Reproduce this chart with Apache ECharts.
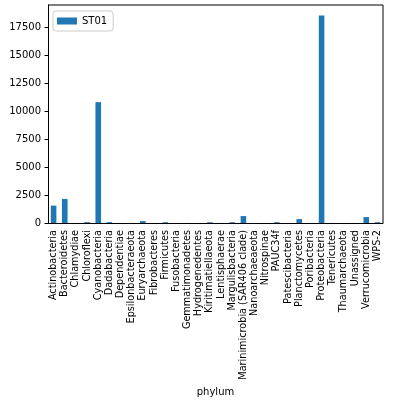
<!DOCTYPE html>
<html><head><meta charset="utf-8">
<script src="https://cdn.jsdelivr.net/npm/echarts@6/dist/echarts.min.js"></script>
<style>html,body{margin:0;padding:0;background:#fff}#c{width:393px;height:402px}</style>
</head><body><div id="c"></div>
<script>
var categories = ["Actinobacteria","Bacteroidetes","Chlamydiae","Chloroflexi","Cyanobacteria","Dadabacteria","Dependentiae","Epsilonbacteraeota","Euryarchaeota","Fibrobacteres","Firmicutes","Fusobacteria","Gemmatimonadetes","Hydrogenedentes","Kiritimatiellaeota","Lentisphaerae","Margulisbacteria","Marinimicrobia (SAR406 clade)","Nanoarchaeaeota","Nitrospinae","PAUC34f","Patescibacteria","Planctomycetes","Poribacteria","Proteobacteria","Tenericutes","Thaumarchaeota","Unassigned","Verrucomicrobia","WPS-2"];
var st01 = [1550,2150,5,80,10800,80,5,5,170,5,70,5,5,5,70,5,70,620,5,5,70,5,350,5,18550,5,5,5,530,70];
var yTicks = [0,2500,5000,7500,10000,12500,15000,17500];
var chart = echarts.init(document.getElementById('c'), null, {renderer:'canvas'});
var font = 'DejaVu Sans';
chart.setOption({
  animation:false,
  textStyle:{fontFamily:font},
  grid:{left:48,right:10,top:5,bottom:179,containLabel:false,outerBoundsMode:'none'},
  legend:{left:53,top:11,data:['ST01'],itemWidth:20,itemHeight:7,itemGap:6,
    padding:[5,6,5,4],borderColor:'#cccccc',borderWidth:1,borderRadius:3,
    textStyle:{fontFamily:font,fontSize:10,color:'#000'},icon:'rect'},
  xAxis:{type:'category',data:categories,name:'phylum',nameLocation:'middle',nameGap:153,
    nameTextStyle:{fontFamily:font,fontSize:10,color:'#000'},
    axisLine:{lineStyle:{color:'#000',width:1}},
    axisTick:{alignWithLabel:true,length:3.5,lineStyle:{color:'#000'}},
    axisLabel:{rotate:90,interval:0,fontFamily:font,fontSize:9.7,color:'#000',margin:7}},
  yAxis:{type:'value',min:0,max:19478,interval:2500,
    axisLine:{show:true,lineStyle:{color:'#000',width:1}},
    axisTick:{show:true,length:3.5,lineStyle:{color:'#000'}},
    splitLine:{show:false},
    axisLabel:{fontFamily:font,fontSize:10,color:'#000',margin:7,
      formatter:function(v){return yTicks.indexOf(v)>=0?String(v):'';},showMaxLabel:false}},
  series:[{name:'ST01',type:'bar',data:st01,barCategoryGap:'50%',itemStyle:{color:'#1f77b4'}}],
  graphic:[{type:'line',shape:{x1:383,y1:5,x2:383,y2:223},style:{stroke:'#000',lineWidth:1}},
           {type:'line',shape:{x1:48,y1:5,x2:383,y2:5},style:{stroke:'#000',lineWidth:1}}]
});
</script></body></html>
